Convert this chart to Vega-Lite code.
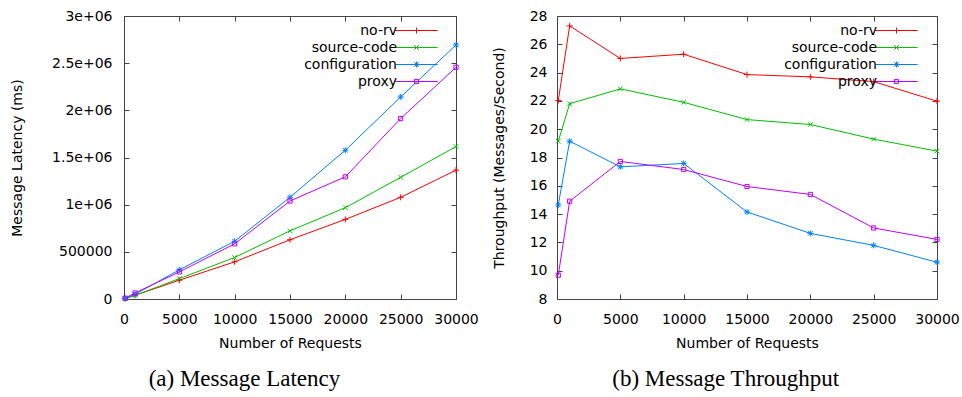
{
  "$schema": "https://vega.github.io/schema/vega-lite/v6.json",
  "padding": {"left": 10, "top": 8, "right": 0, "bottom": 0},
  "background": "white",
  "datasets": {
    "perf": [
      {"series": "no-rv", "requests": 100, "latency": 4000, "throughput": 22.02},
      {"series": "no-rv", "requests": 1000, "latency": 40000, "throughput": 27.3},
      {"series": "no-rv", "requests": 5000, "latency": 199000, "throughput": 25.0},
      {"series": "no-rv", "requests": 10000, "latency": 394000, "throughput": 25.3},
      {"series": "no-rv", "requests": 15000, "latency": 628000, "throughput": 23.86},
      {"series": "no-rv", "requests": 20000, "latency": 844000, "throughput": 23.7},
      {"series": "no-rv", "requests": 25000, "latency": 1078000, "throughput": 23.36},
      {"series": "no-rv", "requests": 30000, "latency": 1366000, "throughput": 21.98},
      {"series": "source-code", "requests": 100, "latency": 5000, "throughput": 19.15},
      {"series": "source-code", "requests": 1000, "latency": 38000, "throughput": 21.8},
      {"series": "source-code", "requests": 5000, "latency": 216000, "throughput": 22.85},
      {"series": "source-code", "requests": 10000, "latency": 440000, "throughput": 21.9},
      {"series": "source-code", "requests": 15000, "latency": 723000, "throughput": 20.68},
      {"series": "source-code", "requests": 20000, "latency": 968000, "throughput": 20.33},
      {"series": "source-code", "requests": 25000, "latency": 1290000, "throughput": 19.3},
      {"series": "source-code", "requests": 30000, "latency": 1616000, "throughput": 18.45},
      {"series": "configuration", "requests": 100, "latency": 7000, "throughput": 14.65},
      {"series": "configuration", "requests": 1000, "latency": 50000, "throughput": 19.15},
      {"series": "configuration", "requests": 5000, "latency": 309000, "throughput": 17.34},
      {"series": "configuration", "requests": 10000, "latency": 613000, "throughput": 17.58},
      {"series": "configuration", "requests": 15000, "latency": 1078000, "throughput": 14.15},
      {"series": "configuration", "requests": 20000, "latency": 1577000, "throughput": 12.64},
      {"series": "configuration", "requests": 25000, "latency": 2142000, "throughput": 11.79},
      {"series": "configuration", "requests": 30000, "latency": 2693000, "throughput": 10.6},
      {"series": "proxy", "requests": 100, "latency": 9000, "throughput": 9.68},
      {"series": "proxy", "requests": 1000, "latency": 64000, "throughput": 14.91},
      {"series": "proxy", "requests": 5000, "latency": 287000, "throughput": 17.72},
      {"series": "proxy", "requests": 10000, "latency": 585000, "throughput": 17.15},
      {"series": "proxy", "requests": 15000, "latency": 1039000, "throughput": 15.95},
      {"series": "proxy", "requests": 20000, "latency": 1295000, "throughput": 15.39},
      {"series": "proxy", "requests": 25000, "latency": 1913000, "throughput": 13.02},
      {"series": "proxy", "requests": 30000, "latency": 2456000, "throughput": 12.21}
    ]
  },
  "data": {"name": "perf"},
  "spacing": 12,
  "hconcat": [
    {
      "width": 332,
      "height": 283,
      "title": {"text": "(a) Message Latency", "orient": "bottom", "anchor": "middle", "frame": "bounds", "font": "Liberation Serif", "fontSize": 23, "fontWeight": "normal", "color": "#000", "offset": 18},
      "layer": [
        {
          "mark": {"type": "line", "strokeWidth": 1},
          "encoding": {
            "x": {"field": "requests", "type": "quantitative", "scale": {"domain": [0, 30000], "nice": false, "zero": false}, "axis": {"orient": "bottom", "title": "Number of Requests", "values": [0, 5000, 10000, 15000, 20000, 25000, 30000], "format": "d", "labelPadding": 18, "titlePadding": 10}},
            "y": {"field": "latency", "type": "quantitative", "scale": {"domain": [0, 3000000], "nice": false}, "axis": {"orient": "left", "title": "Message Latency (ms)", "values": [0, 500000, 1000000, 1500000, 2000000, 2500000, 3000000], "labelExpr": "datum.value < 1000000 ? format(datum.value, 'd') : format(datum.value / 1000000, '~g') + 'e+06'", "labelPadding": 17, "titlePadding": 27}},
            "color": {"field": "series", "type": "nominal", "scale": {"domain": ["no-rv", "source-code", "configuration", "proxy"], "range": ["#ff0000", "#00c000", "#0080ff", "#c000ff"]}, "legend": null}
          }
        },
        {
          "mark": {"type": "point", "size": 36, "strokeWidth": 1, "filled": false, "opacity": 1},
          "encoding": {
            "x": {"field": "requests", "type": "quantitative", "axis": {"orient": "top", "title": null, "labels": false, "values": [0, 5000, 10000, 15000, 20000, 25000, 30000]}},
            "y": {"field": "latency", "type": "quantitative", "axis": {"orient": "right", "title": null, "labels": false, "values": [0, 500000, 1000000, 1500000, 2000000, 2500000, 3000000]}},
            "color": {"field": "series", "type": "nominal", "scale": {"domain": ["no-rv", "source-code", "configuration", "proxy"], "range": ["#ff0000", "#00c000", "#0080ff", "#c000ff"]}, "legend": null},
            "shape": {"field": "series", "type": "nominal", "scale": {"domain": ["no-rv", "source-code", "configuration", "proxy"], "range": ["M-1,0H1M0,-1V1", "M-0.75,-0.75L0.75,0.75M-0.75,0.75L0.75,-0.75", "M-1,0H1M0,-1V1M-0.75,-0.75L0.75,0.75M-0.75,0.75L0.75,-0.75", "M-0.7,-0.7H0.7V0.7H-0.7Z"]}, "legend": null}
          }
        },
        {
          "mark": {"type": "point", "size": 36, "strokeWidth": 1, "filled": false, "opacity": 0},
          "encoding": {
            "x": {"field": "requests", "type": "quantitative", "axis": null},
            "y": {"field": "latency", "type": "quantitative", "axis": null},
            "color": {"field": "series", "type": "nominal", "scale": {"domain": ["no-rv", "source-code", "configuration", "proxy"], "range": ["#ff0000", "#00c000", "#0080ff", "#c000ff"]}, "legend": {"orient": "none", "legendX": 271, "legendY": 6, "title": null, "labelAlign": "right", "labelOffset": -28, "symbolSize": 256, "symbolStrokeWidth": 1, "symbolOpacity": 1, "symbolOffset": 13, "rowPadding": 1, "padding": 0}},
            "shape": {"field": "series", "type": "nominal", "scale": {"domain": ["no-rv", "source-code", "configuration", "proxy"], "range": ["M-2.65,0H2.65M0,-0.37V0.37", "M-2.65,0H2.65M-0.28,-0.28L0.28,0.28M-0.28,0.28L0.28,-0.28", "M-2.65,0H2.65M0,-0.37V0.37M-0.28,-0.28L0.28,0.28M-0.28,0.28L0.28,-0.28", "M-2.65,0H2.65M-0.26,-0.26H0.26V0.26H-0.26Z"]}, "legend": {"orient": "none", "legendX": 271, "legendY": 6, "title": null, "labelAlign": "right", "labelOffset": -28, "symbolSize": 256, "symbolStrokeWidth": 1, "symbolOpacity": 1, "symbolOffset": 13, "rowPadding": 1, "padding": 0}}
          }
        }
      ],
      "resolve": {"axis": {"x": "independent", "y": "independent"}, "scale": {"color": "independent", "shape": "independent"}}
    },
    {
      "width": 380,
      "height": 283,
      "title": {"text": "(b) Message Throughput", "orient": "bottom", "anchor": "middle", "frame": "bounds", "font": "Liberation Serif", "fontSize": 23, "fontWeight": "normal", "color": "#000", "offset": 18},
      "layer": [
        {
          "mark": {"type": "line", "strokeWidth": 1},
          "encoding": {
            "x": {"field": "requests", "type": "quantitative", "scale": {"domain": [0, 30000], "nice": false, "zero": false}, "axis": {"orient": "bottom", "title": "Number of Requests", "values": [0, 5000, 10000, 15000, 20000, 25000, 30000], "format": "d", "labelPadding": 18, "titlePadding": 10}},
            "y": {"field": "throughput", "type": "quantitative", "scale": {"domain": [8, 28], "nice": false, "zero": false}, "axis": {"orient": "left", "title": "Throughput (Messages/Second)", "values": [8, 10, 12, 14, 16, 18, 20, 22, 24, 26, 28], "format": "d", "labelPadding": 15, "titlePadding": 23}},
            "color": {"field": "series", "type": "nominal", "scale": {"domain": ["no-rv", "source-code", "configuration", "proxy"], "range": ["#ff0000", "#00c000", "#0080ff", "#c000ff"]}, "legend": null}
          }
        },
        {
          "mark": {"type": "point", "size": 36, "strokeWidth": 1, "filled": false, "opacity": 1},
          "encoding": {
            "x": {"field": "requests", "type": "quantitative", "axis": {"orient": "top", "title": null, "labels": false, "values": [0, 5000, 10000, 15000, 20000, 25000, 30000]}},
            "y": {"field": "throughput", "type": "quantitative", "axis": {"orient": "right", "title": null, "labels": false, "values": [8, 10, 12, 14, 16, 18, 20, 22, 24, 26, 28]}},
            "color": {"field": "series", "type": "nominal", "scale": {"domain": ["no-rv", "source-code", "configuration", "proxy"], "range": ["#ff0000", "#00c000", "#0080ff", "#c000ff"]}, "legend": null},
            "shape": {"field": "series", "type": "nominal", "scale": {"domain": ["no-rv", "source-code", "configuration", "proxy"], "range": ["M-1,0H1M0,-1V1", "M-0.75,-0.75L0.75,0.75M-0.75,0.75L0.75,-0.75", "M-1,0H1M0,-1V1M-0.75,-0.75L0.75,0.75M-0.75,0.75L0.75,-0.75", "M-0.7,-0.7H0.7V0.7H-0.7Z"]}, "legend": null}
          }
        },
        {
          "mark": {"type": "point", "size": 36, "strokeWidth": 1, "filled": false, "opacity": 0},
          "encoding": {
            "x": {"field": "requests", "type": "quantitative", "axis": null},
            "y": {"field": "throughput", "type": "quantitative", "axis": null},
            "color": {"field": "series", "type": "nominal", "scale": {"domain": ["no-rv", "source-code", "configuration", "proxy"], "range": ["#ff0000", "#00c000", "#0080ff", "#c000ff"]}, "legend": {"orient": "none", "legendX": 318, "legendY": 6, "title": null, "labelAlign": "right", "labelOffset": -28, "symbolSize": 256, "symbolStrokeWidth": 1, "symbolOpacity": 1, "symbolOffset": 13, "rowPadding": 1, "padding": 0}},
            "shape": {"field": "series", "type": "nominal", "scale": {"domain": ["no-rv", "source-code", "configuration", "proxy"], "range": ["M-2.65,0H2.65M0,-0.37V0.37", "M-2.65,0H2.65M-0.28,-0.28L0.28,0.28M-0.28,0.28L0.28,-0.28", "M-2.65,0H2.65M0,-0.37V0.37M-0.28,-0.28L0.28,0.28M-0.28,0.28L0.28,-0.28", "M-2.65,0H2.65M-0.26,-0.26H0.26V0.26H-0.26Z"]}, "legend": {"orient": "none", "legendX": 318, "legendY": 6, "title": null, "labelAlign": "right", "labelOffset": -28, "symbolSize": 256, "symbolStrokeWidth": 1, "symbolOpacity": 1, "symbolOffset": 13, "rowPadding": 1, "padding": 0}}
          }
        }
      ],
      "resolve": {"axis": {"x": "independent", "y": "independent"}, "scale": {"color": "independent", "shape": "independent"}}
    }
  ],
  "resolve": {"scale": {"color": "independent", "shape": "independent"}, "legend": {"color": "independent", "shape": "independent"}},
  "config": {
    "view": {"stroke": "#444", "strokeWidth": 1},
    "axis": {"labelFont": "DejaVu Sans", "labelFontSize": 14, "labelColor": "#000", "titleFont": "DejaVu Sans", "titleFontSize": 14, "titleFontWeight": "normal", "titleColor": "#000", "tickColor": "#444", "tickSize": -5, "tickWidth": 1, "domain": false, "grid": false, "labelFlush": false, "labelOverlap": false},
    "legend": {"labelFont": "DejaVu Sans", "labelFontSize": 14, "labelColor": "#000"}
  }
}
